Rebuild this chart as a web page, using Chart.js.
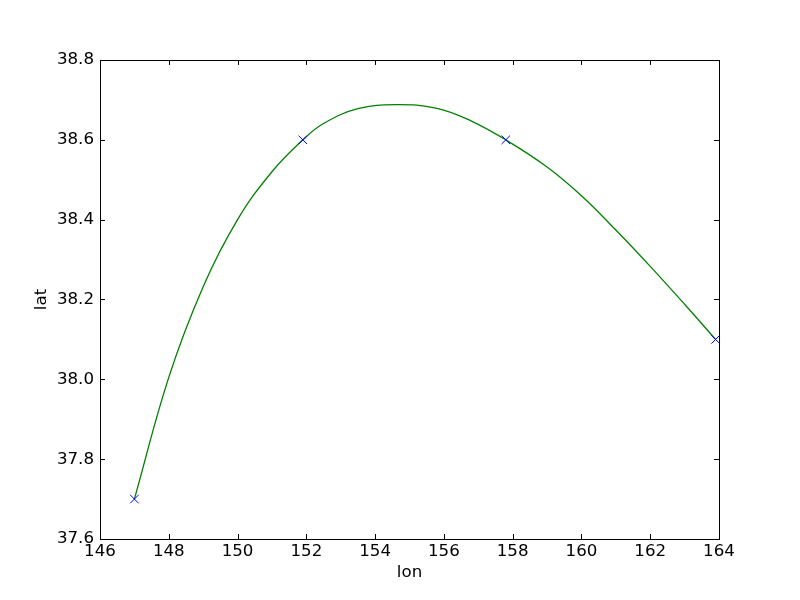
<!DOCTYPE html>
<html>
<head>
<meta charset="utf-8">
<script src="https://cdn.jsdelivr.net/npm/chart.js@4/dist/chart.umd.min.js"></script>
<style>
  html, body { margin: 0; padding: 0; background: #fff; }
  canvas { display: block; }
</style>
</head>
<body>
<canvas id="chart" width="800" height="600"></canvas>
<script>
// Marked positions (blue x)
const markLon = [147.0, 151.9, 157.8, 163.9];
const markLat = [37.70, 38.60, 38.60, 38.10];

// Green fitted curve
const curveLon = [147.0, 148.0, 149.0, 150.0, 151.0, 151.9, 152.5, 153.5, 154.6,
                  155.8, 156.8, 157.8, 159.0, 160.0, 161.0, 162.0, 163.0, 163.9];
const curveLat = [37.700, 38.005, 38.232, 38.400, 38.520, 38.600, 38.641, 38.678, 38.688,
                  38.679, 38.647, 38.600, 38.532, 38.460, 38.374, 38.283, 38.188, 38.100];

// Tick labels
const xTicks = [146, 148, 150, 152, 154, 156, 158, 160, 162, 164];
const yTicks = [37.6, 37.8, 38.0, 38.2, 38.4, 38.6, 38.8];

const FONT = "'DejaVu Sans', sans-serif";
const FSIZE = 16.67;

// frame + inward ticks on all four sides, like matplotlib
const framePlugin = {
  id: "frame",
  afterDraw(chart) {
    const ctx = chart.ctx;
    const a = chart.chartArea;
    const xs = chart.scales.x, ys = chart.scales.y;
    ctx.save();
    ctx.strokeStyle = "#000";
    ctx.lineWidth = 1;
    ctx.beginPath();
    xTicks.forEach(function(v) {
      const px = Math.round(xs.getPixelForValue(v)) + 0.5;
      ctx.moveTo(px, a.bottom); ctx.lineTo(px, a.bottom - 5);
      ctx.moveTo(px, a.top); ctx.lineTo(px, a.top + 5);
    });
    yTicks.forEach(function(v) {
      const py = Math.round(ys.getPixelForValue(v)) + 0.5;
      ctx.moveTo(a.left, py); ctx.lineTo(a.left + 5, py);
      ctx.moveTo(a.right, py); ctx.lineTo(a.right - 5, py);
    });
    ctx.stroke();
    ctx.strokeRect(Math.round(a.left) + 0.5, Math.round(a.top) + 0.5,
                   Math.round(a.right - a.left), Math.round(a.bottom - a.top));
    ctx.restore();
  }
};

new Chart(document.getElementById("chart"), {
  type: "scatter",
  data: {
    datasets: [{
      label: "points",
      data: markLon.map((x, i) => ({x: x, y: markLat[i]})),
      showLine: false,
      pointStyle: "crossRot",
      pointRadius: 6,
      borderColor: "#0000ff",
      backgroundColor: "#0000ff",
      pointBorderWidth: 1
    }, {
      label: "curve",
      data: curveLon.map((x, i) => ({x: x, y: curveLat[i]})),
      showLine: true,
      borderColor: "#008000",
      borderWidth: 1.3,
      pointRadius: 0,
      tension: 0.4,
      fill: false
    }]
  },
  options: {
    responsive: false,
    animation: false,
    devicePixelRatio: 1,
    layout: { padding: { top: 60, right: 81, left: 0, bottom: 0 } },
    plugins: { legend: { display: false }, tooltip: { enabled: false } },
    scales: {
      x: {
        type: "linear",
        min: 146, max: 164,
        afterBuildTicks: s => { s.ticks = xTicks.map(v => ({value: v})); },
        afterFit: s => { s.height = 61; },
        grid: { display: false, drawTicks: false },
        border: { display: false },
        ticks: { color: "#000", font: { family: FONT, size: FSIZE }, padding: 3, maxRotation: 0,
                 callback: v => String(v) },
        title: { display: true, text: "lon", color: "#000", font: { family: FONT, size: FSIZE },
                 padding: { top: 0, bottom: 17 } }
      },
      y: {
        type: "linear",
        min: 37.6, max: 38.8,
        afterBuildTicks: s => { s.ticks = yTicks.map(v => ({value: v})); },
        afterFit: s => { s.width = 100; },
        grid: { display: false, drawTicks: false },
        border: { display: false },
        ticks: { color: "#000", font: { family: FONT, size: FSIZE }, padding: 6,
                 callback: v => v.toFixed(1) },
        title: { display: true, text: "lat", color: "#000", font: { family: FONT, size: FSIZE },
                 padding: { top: 32, bottom: 0 } }
      }
    }
  },
  plugins: [framePlugin]
});
</script>
</body>
</html>
